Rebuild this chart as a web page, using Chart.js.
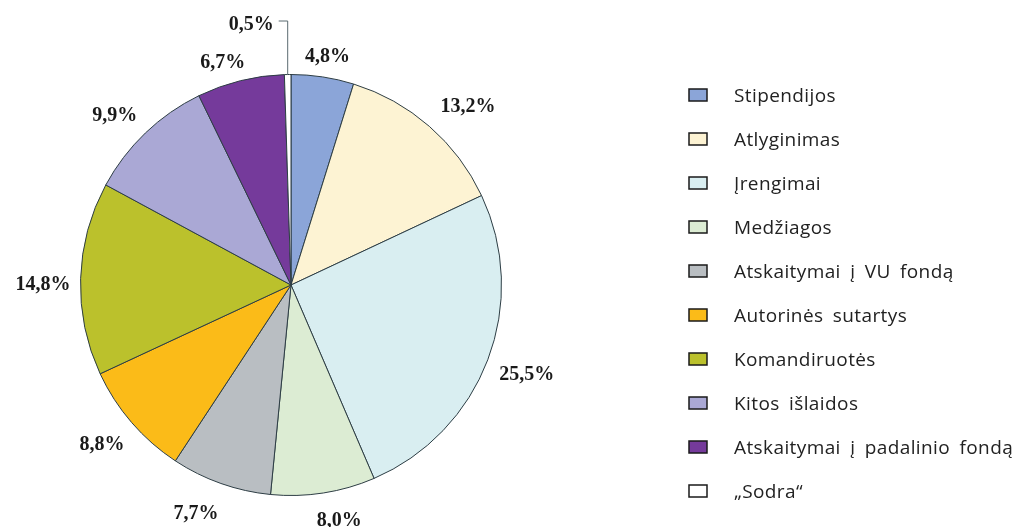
<!DOCTYPE html>
<html lang="lt">
<head>
  <meta charset="UTF-8">
  <title>Išlaidų struktūra</title>
  <style>
    html, body { margin: 0; padding: 0; background: #fff; }
    #wrap { width: 1021px; height: 527px; }
  </style>
</head>
<body>
  <div id="wrap">
    <canvas id="canvas" width="1021" height="527"></canvas>
  </div>
  <script src="https://cdn.jsdelivr.net/npm/chart.js"></script>
  <script type="application/javascript">
    const categories = [
      'Stipendijos', 'Atlyginimas', 'Įrengimai', 'Medžiagos',
      'Atskaitymai į VU fondą', 'Autorinės sutartys', 'Komandiruotės',
      'Kitos išlaidos', 'Atskaitymai į padalinio fondą', '„Sodra“'
    ];
    const shares = [4.8, 13.2, 25.5, 8.0, 7.7, 8.8, 14.8, 9.9, 6.7, 0.5];
    const colors = [
      '#8ba5d8', '#fdf3d3', '#d9eef1', '#dcecd3', '#b9bec2',
      '#fbbb18', '#bbc12c', '#aaa8d5', '#753a9b', '#ffffff'
    ];

    // hand nudges for the outside labels (the original was placed by hand)
    const nudge = [
      [0, 1], [14, -4], [4, 8], [11, 7], [-14, 11],
      [-5, 9], [0, 7], [-8, -2], [-10, 3], [0, 0]
    ];

    const fmt = v => v.toFixed(1).replace('.', ',') + '%';

    // percentage labels outside the slices
    const sliceLabels = {
      id: 'sliceLabels',
      afterDatasetsDraw(chart) {
        const ctx = chart.ctx;
        const arcs = chart.getDatasetMeta(0).data;
        ctx.save();
        ctx.font = 'bold 20px "Liberation Serif", serif';
        ctx.fillStyle = '#1a1a1a';
        ctx.textAlign = 'center';
        ctx.textBaseline = 'middle';
        arcs.forEach((arc, i) => {
          const p = arc.getProps(['x', 'y', 'startAngle', 'endAngle', 'outerRadius']);
          const mid = (p.startAngle + p.endAngle) / 2;
          const text = fmt(shares[i]);
          if (i === shares.length - 1) {
            // small slice: leader line up and to the left
            const lx = p.x + p.outerRadius * Math.cos(mid);
            const ly = p.y + p.outerRadius * Math.sin(mid);
            const ty = 21;
            ctx.strokeStyle = '#5a6a70';
            ctx.lineWidth = 1;
            ctx.beginPath();
            ctx.moveTo(lx, ly);
            ctx.lineTo(lx, ty);
            ctx.lineTo(lx - 9, ty);
            ctx.stroke();
            ctx.textAlign = 'right';
            ctx.fillText(text, lx - 14, ty + 4);
            ctx.textAlign = 'center';
            return;
          }
          const w = ctx.measureText(text).width;
          const c = Math.cos(mid), s = Math.sin(mid);
          const r = p.outerRadius + 10;
          const x = p.x + r * c + (w / 2) * c + nudge[i][0];
          const y = p.y + r * s + 11 * s + nudge[i][1];
          ctx.fillText(text, x, y);
        });
        ctx.restore();
      }
    };

    // legend on the right
    const sideLegend = {
      id: 'sideLegend',
      afterDraw(chart) {
        const ctx = chart.ctx;
        ctx.save();
        ctx.font = '19px "Open Sans", sans-serif';
        ctx.textBaseline = 'middle';
        if ('wordSpacing' in ctx) ctx.wordSpacing = '4px';
        if ('letterSpacing' in ctx) ctx.letterSpacing = '0.4px';
        categories.forEach((name, i) => {
          const y = 95 + i * 44;
          ctx.fillStyle = colors[i];
          ctx.fillRect(689, y - 6, 18, 12);
          ctx.strokeStyle = '#1a1a1a';
          ctx.lineWidth = 1.5;
          ctx.strokeRect(689, y - 6, 18, 12);
          ctx.fillStyle = '#222';
          ctx.fillText(name, 734, y + 2);
        });
        ctx.restore();
      }
    };

    const config = {
      type: 'pie',
      data: {
        labels: categories,
        datasets: [{
          data: shares,
          backgroundColor: colors,
          borderColor: '#2d3d44',
          borderWidth: 1
        }]
      },
      options: {
        responsive: false,
        animation: false,
        layout: { padding: { left: 80, right: 519, top: 74, bottom: 31 } },
        plugins: {
          legend: { display: false },
          tooltip: { enabled: false }
        }
      },
      plugins: [sliceLabels, sideLegend]
    };

    new Chart(document.getElementById('canvas'), config);
  </script>
</body>
</html>
